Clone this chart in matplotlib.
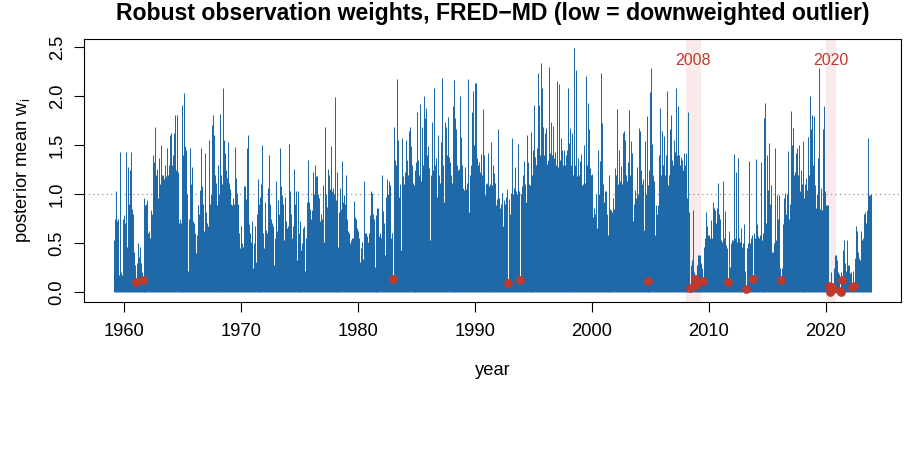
import numpy as np
import matplotlib
matplotlib.use("Agg")
import matplotlib.pyplot as plt

# posterior mean weights, monthly from 1959-03
w_1959_1971 = [
    0.53, 0.75, 1.03, 0.72, 0.75, 0.17, 1.43, 0.20, 0.17, 0.75, 0.79, 0.70, 1.43, 0.46, 1.28, 0.90,
    1.25, 1.43, 0.85, 0.80, 0.41, 0.28, 0.10, 0.30, 0.50, 0.36, 0.46, 0.30, 0.20, 0.12, 0.96, 0.85,
    0.89, 0.90, 0.94, 0.60, 0.62, 0.55, 0.84, 0.80, 1.40, 1.33, 1.69, 1.20, 1.26, 0.96, 1.37, 1.10,
    1.50, 1.20, 1.20, 1.15, 1.30, 1.18, 1.47, 1.20, 1.30, 1.60, 1.62, 1.30, 1.40, 1.62, 1.81, 1.25,
    1.81, 1.23, 0.70, 0.75, 0.70, 1.91, 1.60, 1.40, 2.03, 1.49, 1.45, 1.00, 0.21, 0.75, 1.47, 1.10,
    1.28, 0.72, 0.70, 0.60, 0.40, 0.58, 0.89, 0.80, 1.04, 1.47, 1.08, 0.90, 0.62, 1.42, 0.82, 0.70,
    0.67, 1.55, 0.90, 1.00, 1.71, 1.81, 1.60, 1.20, 1.11, 0.89, 1.30, 1.00, 1.82, 1.20, 1.13, 1.10,
    2.08, 1.55, 1.42, 1.25, 1.16, 1.53, 1.11, 1.05, 0.90, 0.89, 0.96, 0.90, 1.48, 1.16, 1.01, 0.90,
    0.60, 0.45, 0.67, 0.50, 0.46, 1.08, 1.08, 0.95, 1.47, 1.60, 0.69, 0.60, 0.51, 0.72, 0.24, 0.50,
    0.67, 0.31, 0.80, 1.15, 0.90, 0.85, 0.97, 1.10, 1.50, 0.60,
]
w_1972_1984 = [
    0.45, 0.92, 0.63, 0.60, 1.06, 1.40, 0.90, 0.75, 0.70, 0.67, 0.28, 0.55, 1.13, 0.62, 0.94, 0.80,
    1.47, 1.08, 0.99, 0.90, 0.53, 0.97, 0.72, 0.65, 0.67, 1.51, 1.03, 0.80, 0.55, 0.67, 1.26, 0.90,
    1.03, 0.33, 1.03, 0.60, 0.40, 0.72, 0.43, 0.50, 0.65, 0.67, 0.21, 0.55, 0.92, 1.35, 0.92, 0.85,
    0.75, 0.84, 1.23, 1.00, 1.30, 1.18, 1.18, 1.00, 0.96, 0.72, 0.80, 0.75, 1.09, 0.51, 1.69, 1.00,
    0.87, 1.26, 1.20, 1.05, 1.49, 1.03, 1.06, 1.00, 1.99, 0.94, 1.23, 0.90, 0.46, 0.82, 1.06, 0.85,
    1.34, 0.92, 0.99, 0.90, 1.19, 0.75, 0.62, 0.60, 0.50, 0.53, 0.55, 0.55, 0.93, 0.77, 0.75, 0.65,
    0.62, 0.55, 0.31, 0.45, 0.51, 0.34, 1.13, 0.60, 0.60, 0.57, 0.51, 0.60, 0.79, 1.03, 1.01, 0.80,
    0.75, 0.26, 0.79, 0.70, 0.86, 0.86, 0.57, 0.60, 0.55, 1.20, 0.83, 0.70, 0.38, 0.97, 1.15, 1.00,
    1.13, 1.09, 0.55, 0.60, 0.13, 1.69, 1.35, 1.30, 2.18, 1.55, 0.97, 1.10, 0.43, 1.57, 1.18, 1.10,
    1.23, 1.55, 1.35, 1.20, 1.64, 1.69, 1.49, 1.30, 1.11, 1.09, 1.25, 1.15,
]
w_1985_1997 = [
    1.33, 1.84, 1.35, 1.20, 1.92, 1.13, 1.69, 1.30, 2.00, 1.78, 1.88, 1.40, 1.49, 1.27, 0.53, 1.20,
    1.74, 1.25, 2.08, 1.30, 1.37, 0.97, 1.60, 1.20, 1.11, 1.53, 2.19, 1.30, 0.92, 1.74, 1.69, 1.40,
    1.79, 1.38, 1.33, 1.20, 1.11, 1.90, 2.17, 1.40, 1.78, 1.66, 1.30, 1.25, 1.26, 2.00, 1.58, 1.30,
    1.06, 1.04, 1.28, 1.05, 1.11, 2.18, 0.82, 1.20, 1.30, 1.84, 2.05, 1.50, 2.13, 2.13, 1.37, 1.30,
    1.33, 1.23, 1.41, 1.20, 1.87, 1.40, 0.99, 1.10, 1.11, 1.42, 1.08, 1.10, 1.53, 1.09, 1.30, 1.10,
    1.22, 1.11, 0.89, 0.95, 1.66, 0.96, 0.86, 0.90, 1.01, 0.67, 0.94, 0.90, 0.97, 1.05, 0.09, 0.95,
    0.80, 1.01, 1.57, 1.00, 1.06, 1.28, 1.03, 1.00, 1.51, 1.03, 0.12, 1.00, 1.08, 1.19, 1.34, 1.10,
    0.92, 1.60, 1.33, 1.10, 1.09, 1.11, 1.63, 1.20, 1.45, 1.91, 1.38, 1.30, 1.47, 2.24, 1.91, 1.40,
    2.34, 2.08, 1.69, 1.40, 1.62, 1.68, 1.31, 1.35, 2.30, 1.42, 1.74, 1.40, 1.70, 1.37, 1.43, 1.30,
    2.16, 1.28, 2.12, 1.35, 1.57, 1.45, 1.30, 1.45, 1.30, 1.40, 1.45, 2.08,
]
w_1998_2010 = [
    1.52, 1.66, 1.68, 1.30, 1.62, 1.20, 2.49, 1.30, 2.27, 1.18, 1.37, 1.20, 1.34, 1.41, 1.09, 1.10,
    1.50, 1.11, 2.21, 1.30, 1.93, 1.67, 1.27, 1.20, 1.21, 0.77, 0.86, 0.80, 1.00, 0.65, 1.45, 1.00,
    1.34, 2.24, 1.73, 1.10, 0.92, 1.03, 1.03, 0.80, 0.58, 0.91, 1.20, 0.85, 0.84, 0.82, 0.96, 0.85,
    1.27, 1.20, 1.87, 1.10, 1.45, 1.13, 1.29, 1.10, 1.62, 1.64, 1.55, 1.20, 1.13, 1.33, 1.86, 1.20,
    1.54, 1.42, 0.72, 0.90, 1.04, 0.96, 1.28, 1.00, 1.68, 1.64, 1.25, 1.10, 1.15, 0.63, 1.54, 1.00,
    1.80, 1.09, 0.11, 1.25, 2.04, 2.29, 1.51, 1.20, 1.13, 0.58, 0.89, 0.80, 0.89, 1.40, 1.88, 1.20,
    1.64, 1.30, 1.59, 1.20, 1.40, 2.05, 1.09, 1.20, 1.67, 1.81, 1.35, 1.30, 1.55, 1.43, 2.08, 1.40,
    1.90, 1.40, 1.30, 1.38, 1.35, 1.25, 1.42, 1.30, 1.20, 1.42, 0.96,
    1.84, 0.82, 0.04, 0.28, 0.33, 0.84, 0.20, 0.13, 0.07, 0.28, 0.38, 0.38, 0.38, 0.30, 0.24, 0.11,
    0.46, 0.55, 0.82, 0.67, 0.58, 0.58, 0.55, 0.74, 0.55, 0.92, 0.86, 0.84, 0.70, 0.86, 1.11, 0.80,
    0.75,
]
w_2011_2023 = [
    0.53, 0.51, 1.13, 0.55, 0.83, 0.21, 0.48, 0.45, 0.10, 0.62, 0.26, 0.50, 0.53, 0.53, 1.41, 0.55,
    1.23, 0.51, 1.37, 0.55, 0.51, 0.65, 0.46, 0.50, 0.69, 0.21, 0.03, 0.45, 0.50, 1.34, 0.50, 0.55,
    0.58, 0.13, 0.60, 0.55, 1.36, 0.69, 0.57, 0.55, 0.58, 1.33, 0.53, 0.60, 1.78, 0.63, 1.93, 0.70,
    1.40, 1.04, 1.52, 0.90, 1.09, 0.41, 0.41, 0.50, 1.47, 0.53, 0.99, 0.75, 0.99, 0.24, 0.12, 0.24,
    0.69, 0.96, 1.01, 0.80, 1.00, 1.44, 0.75, 0.90, 1.85, 1.50, 1.68, 1.20, 1.23, 1.42, 1.47, 1.20,
    1.50, 1.03, 1.25, 1.10, 1.54, 1.40, 0.96, 1.10, 1.16, 1.04, 1.58, 1.20, 2.00, 1.66, 1.81, 1.30,
    1.80, 1.09, 0.86, 1.00, 1.37, 2.29, 0.85, 1.06, 0.84, 1.67,
    1.90, 1.03, 0.89, 0.89, 0.89, 0.065, 0.00, 0.20, 0.05, 0.03, 0.24, 0.38, 0.38, 0.33, 0.20, 0.18,
    0.01, 0.20, 0.00, 0.12, 0.43, 0.53, 0.30, 0.21, 0.53, 0.28, 0.28, 0.19, 0.20, 0.05, 0.21, 0.06,
    0.35, 0.67, 0.62, 0.41, 0.35, 0.33, 0.62, 0.53, 0.55, 0.80, 0.82, 0.70, 0.84, 1.57, 0.99, 0.99,
    1.00,
]
start_year, start_month = 1959, 3
outlier_cut = 0.15

# shaded episodes
band_lo = [2008.0, 2020.0]
band_hi = [2009.33, 2020.83]
band_lab = ["2008", "2020"]

blue = "#1F69A8"
red = "#C0392B"

plt.rcParams['font.family'] = ['Liberation Sans', 'DejaVu Sans']
plt.rcParams['mathtext.fontset'] = 'custom'
plt.rcParams['mathtext.rm'] = 'Liberation Sans'
plt.rcParams['mathtext.it'] = 'Liberation Sans'

w = np.array(w_1959_1971 + w_1972_1984 + w_1985_1997 + w_1998_2010 + w_2011_2023)
t = start_year + (start_month - 1) / 12 + np.arange(len(w)) / 12

fig = plt.figure(figsize=(9.08, 4.5), dpi=100)
ax = fig.add_axes([84 / 908, 1 - 301.7 / 450, (901 - 84) / 908, (301.7 - 38.5) / 450])

xr = t.max() - t.min()
ax.set_xlim(t.min() - 0.04 * xr, t.max() + 0.04 * xr)
ax.set_ylim(-0.04 * w.max(), 1.04 * w.max())

for lo, hi, lab in zip(band_lo, band_hi, band_lab):
    ax.axvspan(lo, hi, color="#FBEAEA", lw=0, zorder=0)
    ax.text((lo + hi) / 2, 2.36, lab, color=red, fontsize=11.5, ha="center", va="center", zorder=5)

ax.axhline(1.0, color="grey", lw=0.8, ls=(0, (1, 3)), zorder=1)
ax.vlines(t, 0, w, color=blue, lw=0.72, zorder=2)

m = w < outlier_cut
ax.plot(t[m], w[m], "o", color=red, ms=6.3, mec="none", zorder=4)

ax.set_xticks(range(1960, 2021, 10))
yt = [0, 0.5, 1.0, 1.5, 2.0, 2.5]
ax.set_yticks(yt)
ax.set_yticklabels([f"{v:.1f}" for v in yt], rotation=90, va="center")
ax.tick_params(direction="out", length=7.2, width=0.8, labelsize=13.2)
ax.tick_params(axis="x", pad=8)
ax.tick_params(axis="y", pad=6)
for s in ax.spines.values():
    s.set_linewidth(0.8)

ax.set_xlabel("year", fontsize=13.2, labelpad=16)
ax.set_ylabel("posterior mean $\\mathrm{w_i}$", fontsize=13.2, labelpad=11)
ax.set_title("Robust observation weights, FRED\u2212MD (low = downweighted outlier)",
             fontsize=16.6, fontweight="bold", pad=13)

fig.savefig("out.png", dpi=100)
